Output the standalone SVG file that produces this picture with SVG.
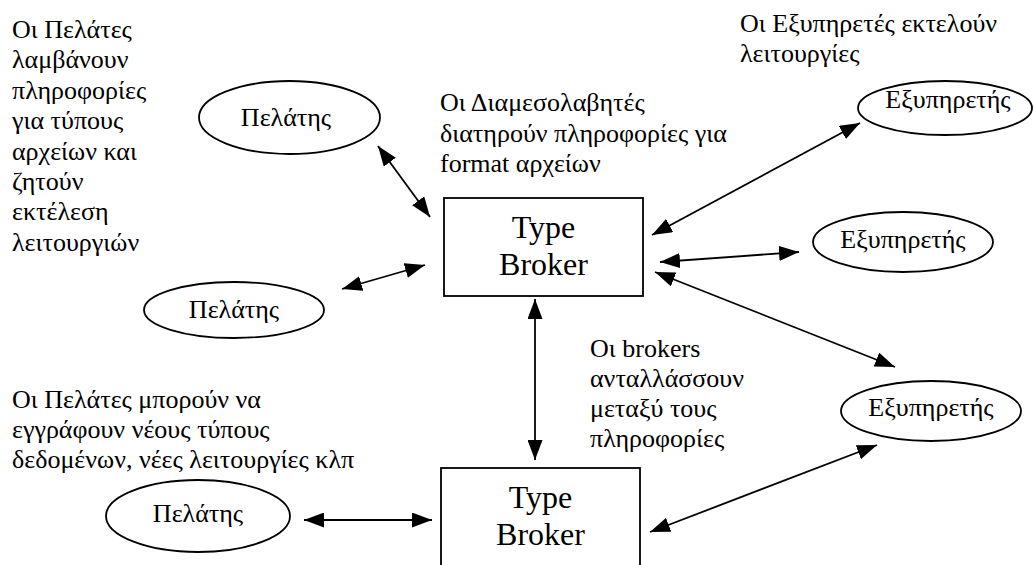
<svg xmlns="http://www.w3.org/2000/svg" width="1034" height="565" viewBox="0 0 1034 565">
  <style>
    text { font-family: 'Liberation Serif', serif; fill: #000; }
    .lbl { font-size: 26px; }
    .nt { font-size: 26px; text-anchor: middle; }
    .bt { font-size: 32px; text-anchor: middle; }
    .shape { fill: #fff; stroke: #000; stroke-width: 1.8; }
    .link { stroke: #000; stroke-width: 1.8; fill: none; marker-start: url(#ah); marker-end: url(#ah); }
  </style>
  <defs>
    <!-- filled triangular head, used on both ends of every link -->
    <marker id="ah" markerUnits="userSpaceOnUse" markerWidth="20" markerHeight="15" refX="20" refY="7.5" orient="auto-start-reverse" viewBox="0 0 20 15">
      <path d="M0,0 L20,7.5 L0,15 z" fill="#000"/>
    </marker>
  </defs>

  <rect width="1034" height="565" fill="#fff"/>

  <!-- annotations -->
  <g id="note-clients" font-family="Liberation Serif">
    <text class="lbl" x="12" y="38">Οι Πελάτες</text>
    <text class="lbl" x="12" y="68.4">λαμβάνουν</text>
    <text class="lbl" x="12" y="98.8">πληροφορίες</text>
    <text class="lbl" x="12" y="129.2">για τύπους</text>
    <text class="lbl" x="12" y="159.6">αρχείων και</text>
    <text class="lbl" x="12" y="190">ζητούν</text>
    <text class="lbl" x="12" y="220.4">εκτέλεση</text>
    <text class="lbl" x="12" y="250.8">λειτουργιών</text>
  </g>
  <g id="note-brokers" font-family="Liberation Serif">
    <text class="lbl" x="440" y="111">Οι Διαμεσολαβητές</text>
    <text class="lbl" x="440" y="141.5">διατηρούν πληροφορίες για</text>
    <text class="lbl" x="440" y="172">format αρχείων</text>
  </g>
  <g id="note-servers" font-family="Liberation Serif">
    <text class="lbl" x="740" y="32">Οι Εξυπηρετές εκτελούν</text>
    <text class="lbl" x="740" y="62">λειτουργίες</text>
  </g>
  <g id="note-exchange" font-family="Liberation Serif">
    <text class="lbl" x="590" y="357">Οι brokers</text>
    <text class="lbl" x="590" y="387">ανταλλάσσουν</text>
    <text class="lbl" x="590" y="417">μεταξύ τους</text>
    <text class="lbl" x="590" y="447">πληροφορίες</text>
  </g>
  <g id="note-register" font-family="Liberation Serif">
    <text class="lbl" x="12" y="408">Οι Πελάτες μπορούν να</text>
    <text class="lbl" x="12" y="438">εγγράφουν νέους τύπους</text>
    <text class="lbl" x="12" y="468">δεδομένων, νέες λειτουργίες κλπ</text>
  </g>

  <!-- connectors -->
  <g id="connectors">
    <line class="link" x1="378" y1="146" x2="430" y2="217"/>
    <line class="link" x1="342" y1="289" x2="425" y2="265"/>
    <line class="link" x1="652" y1="235" x2="860" y2="123"/>
    <line class="link" x1="660" y1="262" x2="799" y2="252"/>
    <line class="link" x1="655" y1="272" x2="895" y2="367"/>
    <line class="link" x1="535" y1="299" x2="535" y2="460"/>
    <line class="link" x1="304" y1="520" x2="432" y2="520"/>
    <line class="link" x1="650" y1="532" x2="877" y2="445"/>
  </g>

  <!-- nodes -->
  <g id="client-1" font-family="Liberation Serif">
    <ellipse class="shape" cx="289.5" cy="117.5" rx="90.5" ry="36.5"/>
    <text class="nt" x="286" y="126">Πελάτης</text>
  </g>
  <g id="client-2" font-family="Liberation Serif">
    <ellipse class="shape" cx="234" cy="310" rx="90" ry="28"/>
    <text class="nt" x="234" y="318">Πελάτης</text>
  </g>
  <g id="client-3" font-family="Liberation Serif">
    <ellipse class="shape" cx="198" cy="516" rx="92" ry="36"/>
    <text class="nt" x="198" y="522">Πελάτης</text>
  </g>
  <g id="broker-1" font-family="Liberation Serif">
    <rect class="shape" x="444" y="198" width="199" height="98"/>
    <text class="bt" x="543.5" y="238">Type</text>
    <text class="bt" x="543.5" y="275">Broker</text>
  </g>
  <g id="broker-2" font-family="Liberation Serif">
    <rect class="shape" x="441" y="468" width="199" height="110"/>
    <text class="bt" x="540.5" y="508">Type</text>
    <text class="bt" x="540.5" y="545">Broker</text>
  </g>
  <g id="server-1" font-family="Liberation Serif">
    <ellipse class="shape" cx="945" cy="108" rx="87" ry="27"/>
    <text class="nt" x="948" y="108">Εξυπηρετής</text>
  </g>
  <g id="server-2" font-family="Liberation Serif">
    <ellipse class="shape" cx="903" cy="242" rx="90" ry="30"/>
    <text class="nt" x="903" y="248">Εξυπηρετής</text>
  </g>
  <g id="server-3" font-family="Liberation Serif">
    <ellipse class="shape" cx="931" cy="411" rx="90" ry="30"/>
    <text class="nt" x="931" y="416">Εξυπηρετής</text>
  </g>
</svg>
